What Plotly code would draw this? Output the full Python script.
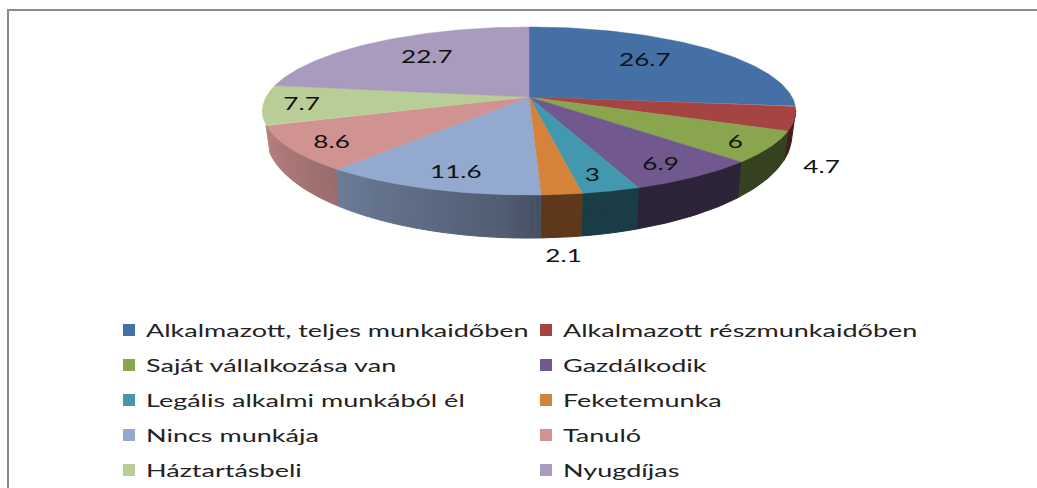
import numpy as np
import plotly.graph_objects as go

categories = ["Alkalmazott, teljes munkaidőben", "Alkalmazott részmunkaidőben",
              "Saját vállalkozása van", "Gazdálkodik",
              "Legális alkalmi munkából él", "Feketemunka",
              "Nincs munkája", "Tanuló", "Háztartásbeli", "Nyugdíjas"]
values = [26.7, 4.7, 6, 6.9, 3, 2.1, 11.6, 8.6, 7.7, 22.7]
colors = ["#4470a5", "#a54442", "#89a54e", "#71588f", "#4198af",
          "#d5823a", "#93a9cf", "#d19392", "#b9cd96", "#a99bbd"]

# text placement (pixels of the page)
label_xy = [(645, 59), (821, 166), (735, 141), (660, 163), (592, 174),
            (563, 255), (456, 171), (331, 141), (301, 103), (427, 56)]

CX, CY, A, B, K = 529.0, 97.0, 263.0, 81.67, 1 / 6
FONT = "Lato"
STRETCH_LEGEND = 1.5
STRETCH_LABEL = 1.45


def top(deg):
    t = np.radians(deg)
    X, Y = np.sin(t), np.cos(t)
    w = 1 + K * Y
    return CX + A * X / w, CY - B * Y / w


def bottom(deg):
    x, y = top(deg)
    return CX + 0.985 * (x - CX), CY + 21.5 + 1.22 * (y - CY)


def shade(deg):
    return np.interp(deg, [170, 185, 222, 250], [0.4, 0.55, 0.75, 0.87])


def mult(hexcol, f):
    r, g, b = [int(hexcol[i:i + 2], 16) for i in (1, 3, 5)]
    return f"rgb({int(r * f)},{int(g * f)},{int(b * f)})"


fig = go.Figure()
edges = np.concatenate([[0], np.cumsum(values)]) * 3.6

# side wall, painted from both ends towards the front
strips = []
for i, c in enumerate(colors):
    lo, hi = max(edges[i], 99.0), min(edges[i + 1], 251.0)
    if hi <= lo:
        continue
    if hi <= 170 or (edges[i + 1] - edges[i]) < 9:
        strips.append((lo, hi, c))
        continue
    n = max(int(hi - lo), 1)
    steps = np.linspace(lo, hi, n + 1)
    for a0, a1 in zip(steps[:-1], steps[1:]):
        strips.append((a0, a1, c))
strips.sort(key=lambda s: abs((s[0] + s[1]) / 2 - 180), reverse=True)
for a0, a1, c in strips:
    arc = np.linspace(a0, a1, 30)
    tx, ty = top(arc)
    bx, by = bottom(arc)
    col = mult(c, shade((a0 + a1) / 2))
    fig.add_trace(go.Scatter(x=np.r_[tx, bx[::-1], tx[0]], y=np.r_[ty, by[::-1], ty[0]],
                             mode="lines", fill="toself", fillcolor=col,
                             line=dict(color=col, width=1),
                             hoverinfo="skip", showlegend=False))

# top face
for i, c in enumerate(colors):
    arc = np.linspace(edges[i], edges[i + 1], 90)
    x, y = top(arc)
    fig.add_trace(go.Scatter(x=np.r_[CX, x, CX], y=np.r_[CY, y, CY],
                             mode="lines", fill="toself", fillcolor=c,
                             line=dict(color=c, width=0.5),
                             name=categories[i], hoverinfo="name", showlegend=False))

annotations = []
for v, (x, y) in zip(values, label_xy):
    annotations.append(dict(x=x, y=y, xref="x", yref="y", text=f"{v:g}", showarrow=False,
                            font=dict(family=FONT, size=18, color="#111111")))

# two-column legend
for i, (name, c) in enumerate(zip(categories, colors)):
    col, row = i % 2, i // 2
    sx = 129 + col * 417
    sy = 330 + row * 35
    fig.add_trace(go.Scatter(x=[sx], y=[sy], mode="markers", hoverinfo="skip", showlegend=False,
                             marker=dict(symbol="square", size=12, color=c)))
    annotations.append(dict(x=sx + 14.5, y=sy, xref="x", yref="y", text=name, showarrow=False,
                            xanchor="left", yanchor="middle",
                            font=dict(family=FONT, size=18, color="#222222")))

frame = "#8a8a8a"
shapes = [dict(type="line", x0=8, x1=8, y0=9, y1=488, line=dict(color=frame, width=2)),
          dict(type="line", x0=7, x1=1037, y0=10, y1=10, line=dict(color=frame, width=2))]

fig.update_layout(width=1037, height=488, margin=dict(l=0, r=0, t=0, b=0),
                  paper_bgcolor="white", plot_bgcolor="white", showlegend=False,
                  annotations=annotations, shapes=shapes,
                  xaxis=dict(range=[0, 1037], visible=False, fixedrange=True),
                  yaxis=dict(range=[488, 0], visible=False, fixedrange=True))

# The reference's text is stretched horizontally; the body margin is removed so
# the figure fills the window.
post = """
document.body.style.margin = '0';
document.documentElement.style.overflow = 'hidden';
document.querySelectorAll('.annotation-text').forEach(function (t) {
  var w = t.getComputedTextLength();
  var num = /^[0-9.]+$/.test(t.textContent);
  var S = num ? %g : %g;
  t.setAttribute('lengthAdjust', 'spacingAndGlyphs');
  t.setAttribute('textLength', w * S);
  if (!num) {
    t.setAttribute('x', parseFloat(t.getAttribute('x')) + w * (S - 1) / 2);
  }
});
""" % (STRETCH_LABEL, STRETCH_LEGEND)
fig.write_html("out.html", config=dict(displayModeBar=False), post_script=post)
